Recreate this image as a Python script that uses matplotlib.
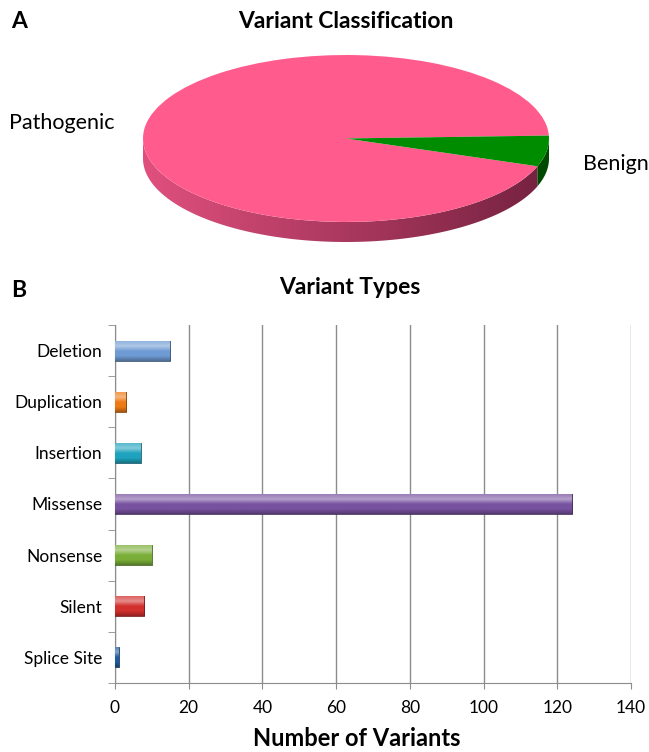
import numpy as np
import matplotlib
matplotlib.use("Agg")
import matplotlib.pyplot as plt
from matplotlib.patches import Polygon
from matplotlib.colors import LinearSegmentedColormap, to_rgb

plt.rcParams['font.family'] = ['Lato', 'DejaVu Sans']

# ---- data ----
class_labels = ["Pathogenic", "Benign"]
class_counts = [158, 10]
class_colors = ["#FF5C8D", "#008C00"]
class_side_colors = [("#E0507E", "#74213F"), ("#004A00", "#004A00")]

type_labels = ["Deletion", "Duplication", "Insertion", "Missense",
               "Nonsense", "Silent", "Splice Site"]
type_counts = [15, 3, 7, 124, 10, 8, 1]
type_colors = ["#6E9BD3", "#EE7A16", "#1FA3BE", "#7752A0",
               "#7AAE38", "#D2302E", "#1E5C9E"]
x_ticks = [0, 20, 40, 60, 80, 100, 120, 140]

W, H = 649, 752
fig = plt.figure(figsize=(W / 100, H / 100), dpi=100)


def px_axes(x0, y0, x1, y1):
    return fig.add_axes([x0 / W, 1 - y1 / H, (x1 - x0) / W, (y1 - y0) / H])


def lighten(c, f):
    r = np.array(to_rgb(c))
    return tuple(r + (1 - r) * f)


def darken(c, f):
    r = np.array(to_rgb(c))
    return tuple(r * (1 - f))


# ---- panel A: tilted pie ----
thick = 0.24
axp = px_axes(143, 55, 549, 242)
start = 2.0
wedges, _ = axp.pie(class_counts, colors=class_colors, startangle=start,
                    counterclock=True, radius=1,
                    wedgeprops=dict(linewidth=0, zorder=3))
axp.set_aspect('auto')
axp.axis('off')

# side band of each wedge where it faces the viewer (angles 180..360)
fracs = np.array(class_counts) / np.sum(class_counts)
edges = start + 360 * np.concatenate([[0], np.cumsum(fracs)])
for i in range(len(class_counts)):
    a0, a1 = edges[i] % 360, edges[i + 1] % 360
    if a1 <= a0:
        a1 += 360
    lo, hi = max(a0, 180), min(a1, 360)
    if hi <= lo:
        continue
    th = np.radians(np.linspace(lo, hi, 200))
    upper = np.column_stack([np.cos(th), np.sin(th)])
    lower = np.column_stack([np.cos(th[::-1]), np.sin(th[::-1]) - thick])
    poly = Polygon(np.vstack([upper, lower]), closed=True, facecolor='none',
                   edgecolor='none', transform=axp.transData)
    axp.add_patch(poly)
    c0, c1 = class_side_colors[i]
    cmap = LinearSegmentedColormap.from_list("side%d" % i, [c0, c1])
    grad = np.linspace(0, 1, 256)[None, :]
    im = axp.imshow(grad, cmap=cmap, extent=[-1, 1, -1 - thick, 0],
                    aspect='auto', zorder=1, interpolation='bilinear')
    im.set_clip_path(poly)
axp.set_xlim(-1, 1)
axp.set_ylim(-1 - thick, 1)

fig.text(11 / W, 1 - 22 / H, "A", fontsize=16.5, fontweight='bold',
         va='center', ha='left')
fig.text(346 / W, 1 - 21 / H, "Variant Classification", fontsize=16.5,
         fontweight='bold', va='center', ha='center')
fig.text(9 / W, 1 - 123 / H, class_labels[0], fontsize=15.5,
         va='center', ha='left')
fig.text(583 / W, 1 - 164 / H, class_labels[1], fontsize=15.5,
         va='center', ha='left')

# ---- panel B: horizontal bars ----
axb = px_axes(115, 325, 631, 683)
n = len(type_labels)
ypos = np.arange(n)[::-1]
bar_h = 0.39
bars = axb.barh(ypos, type_counts, height=bar_h, color=type_colors,
                edgecolor='none', zorder=3)
for bar, col in zip(bars, type_colors):
    x0, y0 = bar.get_x(), bar.get_y()
    w, h = bar.get_width(), bar.get_height()
    cmap = LinearSegmentedColormap.from_list(
        "b", [darken(col, 0.30), col, col, lighten(col, 0.45),
              lighten(col, 0.25)])
    grad = np.linspace(0, 1, 64)[:, None]
    im = axb.imshow(grad, cmap=cmap, extent=[x0, x0 + w, y0, y0 + h],
                    origin='lower', aspect='auto', zorder=4,
                    interpolation='bilinear')
    im.set_clip_path(bar)
    axb.plot([x0, x0 + w, x0 + w], [y0, y0, y0 + h],
             color=darken(col, 0.45), lw=0.6, zorder=5)

axb.set_xlim(0, 140)
axb.set_ylim(-0.5, n - 0.5)
axb.set_xticks(x_ticks)
axb.set_xticklabels([str(t) for t in x_ticks], fontsize=12.5)
axb.set_yticks(ypos)
axb.set_yticklabels(type_labels, fontsize=12.5)
axb.set_yticks(np.arange(n + 1) - 0.5, minor=True)
axb.tick_params(axis='y', which='major', length=0, pad=9)
axb.tick_params(axis='y', which='minor', length=5, color='#8C8C8C',
                direction='out')
axb.tick_params(axis='x', length=4, color='#8C8C8C', direction='out',
                pad=8)
axb.grid(axis='x', color='#8C8C8C', lw=1, zorder=0)
for s in ['top', 'right']:
    axb.spines[s].set_visible(False)
for s in ['left', 'bottom']:
    axb.spines[s].set_color('#8C8C8C')
axb.set_axisbelow(True)

fig.text(357 / W, 1 - 739 / H, "Number of Variants", fontsize=17,
         fontweight='bold', va='center', ha='center')
fig.text(11 / W, 1 - 290 / H, "B", fontsize=16.5, fontweight='bold',
         va='center', ha='left')
fig.text(350 / W, 1 - 288 / H, "Variant Types", fontsize=16.5,
         fontweight='bold', va='center', ha='center')

fig.savefig("out.png", dpi=100, facecolor='white')
